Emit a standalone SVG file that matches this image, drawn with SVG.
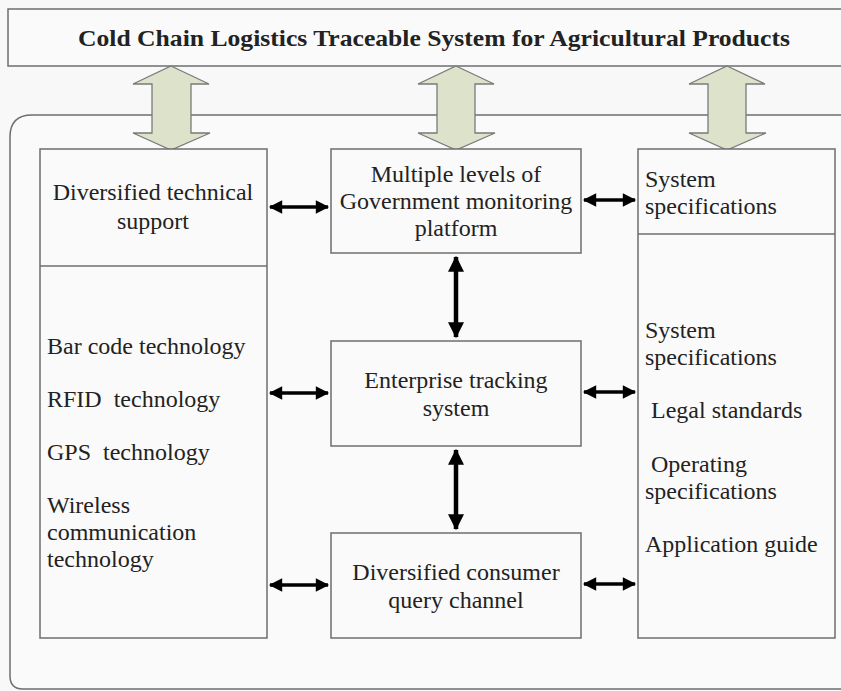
<svg xmlns="http://www.w3.org/2000/svg" width="841" height="691" viewBox="0 0 841 691">
<style>
.box{fill:#fafafa;stroke:#6e6e6e;stroke-width:1.5}
.big{fill:#dde3cb;stroke:#7a7a7a;stroke-width:1.3}
.t{font-family:"Liberation Serif",serif;font-size:24px;fill:#222}
.c{text-anchor:middle}
.con{stroke:#000;stroke-width:3.5;fill:none;marker-start:url(#ah);marker-end:url(#ah)}
.conv{stroke:#000;stroke-width:4.5;fill:none;marker-start:url(#av);marker-end:url(#av)}
</style>
<defs>
<marker id="ah" viewBox="0 0 12 12" refX="11" refY="6" markerWidth="4.2" markerHeight="3.8" orient="auto-start-reverse" markerUnits="strokeWidth">
<path d="M0,0 L12,6 L0,12 Z" fill="#000"/>
</marker>
<marker id="av" viewBox="0 0 12 12" refX="11" refY="6" markerWidth="4.2" markerHeight="3.6" orient="auto-start-reverse" markerUnits="strokeWidth">
<path d="M0,0 L12,6 L0,12 Z" fill="#000"/>
</marker>
</defs>
<rect width="841" height="691" fill="#f8f8f8"/>
<g id="outer"><path d="M850,115 H32 Q10,115 10,137 V676 Q10,689 23,689 H850" class="box"/></g>
<g id="title">
<rect x="8" y="9" width="845" height="57" class="box" fill="#fdfdfd"/>
<text x="434" y="46" class="c" font-family="Liberation Serif,serif" font-weight="bold" font-size="23" fill="#222" textLength="712" lengthAdjust="spacingAndGlyphs">Cold Chain Logistics Traceable System for Agricultural Products</text>
</g>
<g id="bigarrows">
<path class="big" d="M171,66 L209,84 L191,84 L191,133 L210,133 L171,150 L133,133 L152,133 L152,84 L133,84 Z"/>
<path class="big" d="M456,66 L494,84 L475,84 L475,133 L495,133 L456,150 L418,133 L437,133 L437,84 L418,84 Z"/>
<path class="big" d="M727,66 L765,84 L746,84 L746,133 L766,133 L727,150 L689,133 L708,133 L708,84 L689,84 Z"/>
</g>
<g id="left">
<rect x="40" y="149" width="227" height="489" class="box"/>
<line x1="40" y1="266" x2="267" y2="266" stroke="#6e6e6e" stroke-width="1.5"/>
<text class="t c" x="153" y="200">Diversified technical</text>
<text class="t c" x="153" y="229">support</text>
<text class="t" x="47" y="354">Bar code technology</text>
<text class="t" x="47" y="407" xml:space="preserve">RFID  technology</text>
<text class="t" x="47" y="460" xml:space="preserve">GPS  technology</text>
<text class="t" x="47" y="513">Wireless</text>
<text class="t" x="47" y="540">communication</text>
<text class="t" x="47" y="567">technology</text>
</g>
<g id="gov">
<rect x="331" y="149" width="250" height="104" class="box"/>
<text class="t c" x="456" y="182">Multiple levels of</text>
<text class="t c" x="456" y="209">Government monitoring</text>
<text class="t c" x="456" y="236">platform</text>
</g>
<g id="enterprise">
<rect x="331" y="341" width="250" height="105" class="box"/>
<text class="t c" x="456" y="388">Enterprise tracking</text>
<text class="t c" x="456" y="416">system</text>
</g>
<g id="consumer">
<rect x="331" y="533" width="250" height="105" class="box"/>
<text class="t c" x="456" y="580">Diversified consumer</text>
<text class="t c" x="456" y="608">query channel</text>
</g>
<g id="right">
<rect x="638" y="149" width="197" height="489" class="box"/>
<line x1="638" y1="234" x2="835" y2="234" stroke="#6e6e6e" stroke-width="1.5"/>
<text class="t" x="645" y="187">System</text>
<text class="t" x="645" y="214">specifications</text>
<text class="t" x="645" y="338">System</text>
<text class="t" x="645" y="365">specifications</text>
<text class="t" x="651" y="418">Legal standards</text>
<text class="t" x="651" y="472">Operating</text>
<text class="t" x="645" y="499">specifications</text>
<text class="t" x="645" y="552">Application guide</text>
</g>
<g id="connectors">
<line class="con" x1="270" y1="207" x2="328" y2="207"/>
<line class="con" x1="584" y1="200" x2="635" y2="200"/>
<line class="conv" x1="456" y1="257" x2="456" y2="337"/>
<line class="con" x1="270" y1="393" x2="328" y2="393"/>
<line class="con" x1="584" y1="392" x2="635" y2="392"/>
<line class="conv" x1="456" y1="450" x2="456" y2="529"/>
<line class="con" x1="270" y1="585" x2="328" y2="585"/>
<line class="con" x1="584" y1="584" x2="635" y2="584"/>
</g>
</svg>
